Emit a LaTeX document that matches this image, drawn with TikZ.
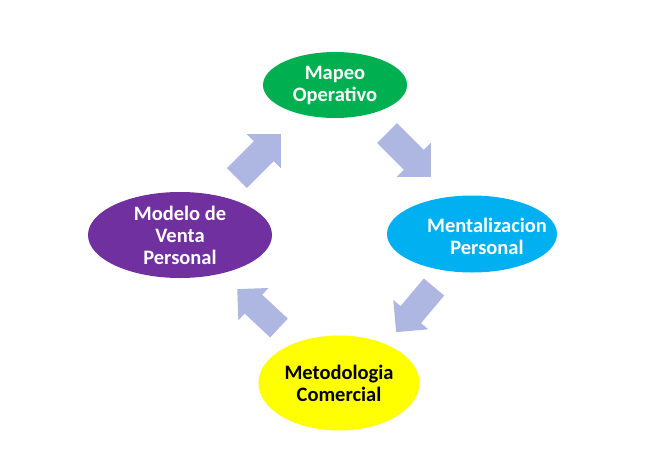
\documentclass[tikz,border=0pt]{standalone}
\usepackage{fontspec}
\setmainfont{Carlito}
\usetikzlibrary{shapes.geometric}
\definecolor{cgreen}{RGB}{0,176,80}
\definecolor{cblue}{RGB}{0,176,240}
\definecolor{cyellow}{RGB}{255,255,0}
\definecolor{cpurple}{RGB}{112,48,160}
\definecolor{carrow}{RGB}{174,182,226}
\begin{document}
\begin{tikzpicture}[x=1pt,y=1pt,
  oval/.style={ellipse,inner sep=0pt,align=center,
    font=\fontsize{20.5}{22}\selectfont\bfseries},
  lbl/.style={inner sep=0pt,align=center,
    font=\fontsize{20.5}{22}\selectfont\bfseries},
  blockarrow/.pic={\fill[carrow] (0,-14) -- (38,-14) -- (38,-24) -- (62,0)
     -- (38,24) -- (38,14) -- (0,14) -- cycle;}]
\useasboundingbox (0,0) rectangle (662,-464);
\node[oval,fill=cgreen,text=white,minimum width=144,minimum height=66] (mapeo) at (335,-85) {Mapeo\\Operativo};
\node[oval,fill=cblue,minimum width=170,minimum height=77] (mental) at (472,-234) {};
\node[lbl,text=white] (mentaltext) at ([xshift=15,yshift=-2]mental.center) {Mentalizacion\\Personal};
\node[oval,fill=cyellow,text=black,minimum width=161,minimum height=95] (metod) at (339,-383) {Metodologia\\Comercial};
\node[oval,fill=cpurple,text=white,minimum width=184,minimum height=86] (modelo) at (180,-235) {Modelo de\\Venta\\Personal};
\coordinate (a1) at (387,-133);
\coordinate (a2) at (237,-178);
\coordinate (a3) at (434,-287);
\coordinate (a4) at (279,-328);
\pic[rotate=-45] at (a1) {blockarrow};
\pic[rotate=45] at (a2) {blockarrow};
\pic[rotate=230,scale=0.95] at (a3) {blockarrow};
\pic[rotate=137,scale=0.92] at (a4) {blockarrow};
\end{tikzpicture}
\end{document}
